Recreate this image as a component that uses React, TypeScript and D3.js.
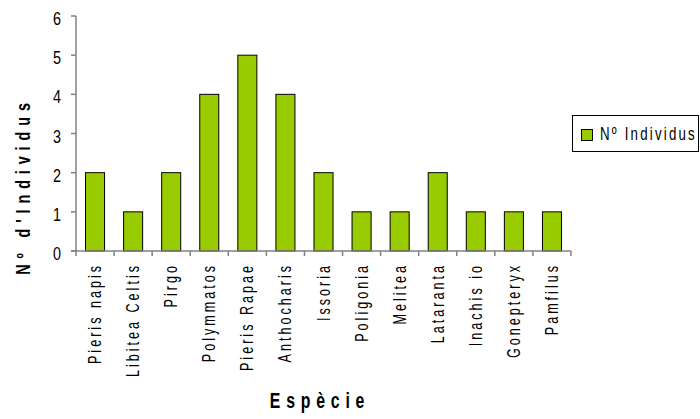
import React from "react";
import * as d3 from "d3";

const species = [
  "Pieris napis",
  "Libitea Celtis",
  "Pirgo",
  "Polymmatos",
  "Pieris Rapae",
  "Anthocharis",
  "Issoria",
  "Poligonia",
  "Melitea",
  "Lataranta",
  "Inachis io",
  "Gonepteryx",
  "Pamfilus",
];
const individus = [2, 1, 2, 4, 5, 4, 2, 1, 1, 2, 1, 1, 1];
const yTicks = [0, 1, 2, 3, 4, 5, 6];
const seriesName = "Nº Individus";
const xTitle = "Espècie";
const yTitle = "Nº d'Individus";

const W = 700;
const H = 419;
const left = 76;
const right = 571;
const top = 16;
const bottom = 251;
const FILL = "#99CC00";
const AXIS = "#808080";
const FONT = "'Liberation Sans', Arial, sans-serif";

// Narrow, widely tracked text like the old spreadsheet chart style
function NarrowText(props: {
  x: number;
  y: number;
  rotate?: number;
  anchor?: "start" | "middle" | "end";
  size: number;
  sx: number;
  spacing: number;
  bold?: boolean;
  children: string;
}) {
  const { x, y, rotate = 0, anchor = "start", size, sx, spacing, bold, children } = props;
  return (
    <text
      transform={`translate(${x},${y}) rotate(${rotate}) scale(${sx},1)`}
      textAnchor={anchor}
      fontFamily={FONT}
      fontSize={size}
      fontWeight={bold ? "bold" : "normal"}
      letterSpacing={spacing / sx}
      fill="#000"
    >
      {children}
    </text>
  );
}

export default function App() {
  const x = d3
    .scaleBand<string>()
    .domain(species)
    .range([left, right])
    .paddingInner(0.5)
    .paddingOuter(0.25);
  const y = d3.scaleLinear().domain([0, 6]).range([bottom, top]);
  const step = x.step();
  const boundaries = d3.range(species.length + 1).map((i) => left + i * step);

  return (
    <svg width={W} height={H} style={{ position: "absolute", left: 0, top: 0 }}>
      <rect width={W} height={H} fill="#fff" />

      {/* bars */}
      {species.map((s, i) => (
        <rect
          key={s}
          x={x(s)!}
          y={y(individus[i])}
          width={x.bandwidth()}
          height={bottom - y(individus[i])}
          fill={FILL}
          stroke="#000"
          strokeWidth={1}
        />
      ))}

      {/* y axis */}
      <line x1={left} x2={left} y1={top} y2={bottom} stroke={AXIS} strokeWidth={1.5} />
      {yTicks.map((t) => (
        <g key={t}>
          <line x1={left - 5} x2={left} y1={y(t)} y2={y(t)} stroke={AXIS} strokeWidth={1.5} />
          <NarrowText x={61} y={y(t) + 9} anchor="end" size={18} sx={0.8} spacing={0}>
            {String(t)}
          </NarrowText>
        </g>
      ))}

      {/* x axis */}
      <line x1={left - 5} x2={right} y1={bottom} y2={bottom} stroke={AXIS} strokeWidth={1.5} />
      {boundaries.map((b, i) => (
        <line key={i} x1={b} x2={b} y1={bottom} y2={bottom + 5} stroke={AXIS} strokeWidth={1.5} />
      ))}
      {species.map((s) => (
        <NarrowText
          key={s}
          x={x(s)! + x.bandwidth() / 2 + 6}
          y={263}
          rotate={-90}
          anchor="end"
          size={18}
          sx={0.7}
          spacing={3}
        >
          {s}
        </NarrowText>
      ))}

      {/* axis titles */}
      <NarrowText x={320} y={408} anchor="middle" size={22} sx={0.72} spacing={5.8} bold>
        {xTitle}
      </NarrowText>
      <NarrowText x={30} y={186} rotate={-90} anchor="middle" size={20} sx={0.72} spacing={5.9} bold>
        {yTitle}
      </NarrowText>

      {/* legend */}
      <rect x={572.5} y={115.5} width={126} height={36} fill="#fff" stroke="#000" strokeWidth={1} />
      <rect x={581.5} y={129.5} width={11} height={11} fill={FILL} stroke="#000" strokeWidth={1} />
      <NarrowText x={600} y={140} size={19} sx={0.7} spacing={2.2}>
        {seriesName}
      </NarrowText>
    </svg>
  );
}
